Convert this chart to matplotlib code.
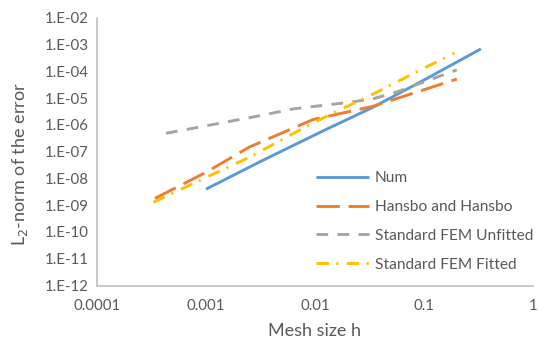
import matplotlib
matplotlib.use("Agg")
import matplotlib.pyplot as plt
from matplotlib.ticker import FixedLocator, FixedFormatter, NullLocator

plt.rcParams['font.family'] = ['Lato', 'DejaVu Sans']

# Data
num_h = [0.001, 0.00333, 0.0128, 0.0333, 0.1, 0.333]
num_e = [4.0e-9, 4.8e-8, 7.0e-7, 4.4e-6, 4.8e-5, 7.0e-4]

hansbo_h = [0.00034, 0.001, 0.0025, 0.0096, 0.034, 0.07, 0.2]
hansbo_e = [1.8e-9, 1.7e-8, 1.5e-7, 1.6e-6, 5.0e-6, 1.3e-5, 5.2e-5]

unfit_h = [0.00043, 0.0029, 0.0063, 0.021, 0.034, 0.056, 0.2]
unfit_e = [4.9e-7, 2.1e-6, 4.0e-6, 7.1e-6, 9.5e-6, 1.7e-5, 1.15e-4]

fit_h = [0.00033, 0.00126, 0.0025, 0.0078, 0.0146, 0.03, 0.091, 0.19]
fit_e = [1.3e-9, 1.7e-8, 6.2e-8, 7.6e-7, 2.8e-6, 1.1e-5, 1.1e-4, 4.9e-4]

xticks = [0.0001, 0.001, 0.01, 0.1, 1]
xticklabels = ["0.0001", "0.001", "0.01", "0.1", "1"]
yticks = [1e-12, 1e-11, 1e-10, 1e-9, 1e-8, 1e-7, 1e-6, 1e-5, 1e-4, 1e-3, 1e-2]
yticklabels = ["1.E-12", "1.E-11", "1.E-10", "1.E-09", "1.E-08", "1.E-07",
               "1.E-06", "1.E-05", "1.E-04", "1.E-03", "1.E-02"]

fig = plt.figure(figsize=(5.39, 3.44), dpi=100)
ax = fig.add_axes([97/539, 1-285.5/344, (533-97)/539, (285.5-18)/344])

lw = 2.1
ax.plot(num_h, num_e, color='#5B9BD5', lw=lw, label='Num', solid_capstyle='butt')
l2, = ax.plot(hansbo_h, hansbo_e, color='#ED7D31', lw=lw, label='Hansbo and Hansbo')
l2.set_dashes([8, 3])
l3, = ax.plot(unfit_h, unfit_e, color='#A5A5A5', lw=lw, label='Standard FEM Unfitted')
l3.set_dashes([4, 3.2])
l4, = ax.plot(fit_h, fit_e, color='#FFC000', lw=lw, label='Standard FEM Fitted')
l4.set_dashes([4.3, 2.5, 0.7, 2.9])
for l in (l2, l3, l4):
    l.set_dash_capstyle('butt')

ax.set_xscale('log')
ax.set_yscale('log')
ax.set_xlim(1e-4, 1)
ax.set_ylim(1e-12, 1e-2)
ax.xaxis.set_major_locator(FixedLocator(xticks))
ax.xaxis.set_major_formatter(FixedFormatter(xticklabels))
ax.yaxis.set_major_locator(FixedLocator(yticks))
ax.yaxis.set_major_formatter(FixedFormatter(yticklabels))
ax.xaxis.set_minor_locator(NullLocator())
ax.yaxis.set_minor_locator(NullLocator())

for s in ('top', 'right'):
    ax.spines[s].set_visible(False)
for s in ('left', 'bottom'):
    ax.spines[s].set_color('#BFBFBF')
    ax.spines[s].set_linewidth(1.2)

ax.tick_params(axis='both', length=0, labelsize=10.8, labelcolor='#595959')
ax.tick_params(axis='x', pad=10)
ax.tick_params(axis='y', pad=6)

fig.text(20/539, 1-164/344, r'L$_2$-norm of the error', rotation=90,
         ha='center', va='center', fontsize=13, color='#595959')
fig.text(314/539, 1-331/344, 'Mesh size h', ha='center', va='center',
         fontsize=13, color='#595959')

leg = ax.legend(loc='upper left', bbox_to_anchor=(310/539, 1-165/344),
                bbox_transform=fig.transFigure, frameon=False,
                fontsize=11.2, handlelength=3.4, handletextpad=0.35,
                labelspacing=0.95, borderaxespad=0)
for t in leg.get_texts():
    t.set_color('#595959')

fig.savefig('out.png', dpi=100)
